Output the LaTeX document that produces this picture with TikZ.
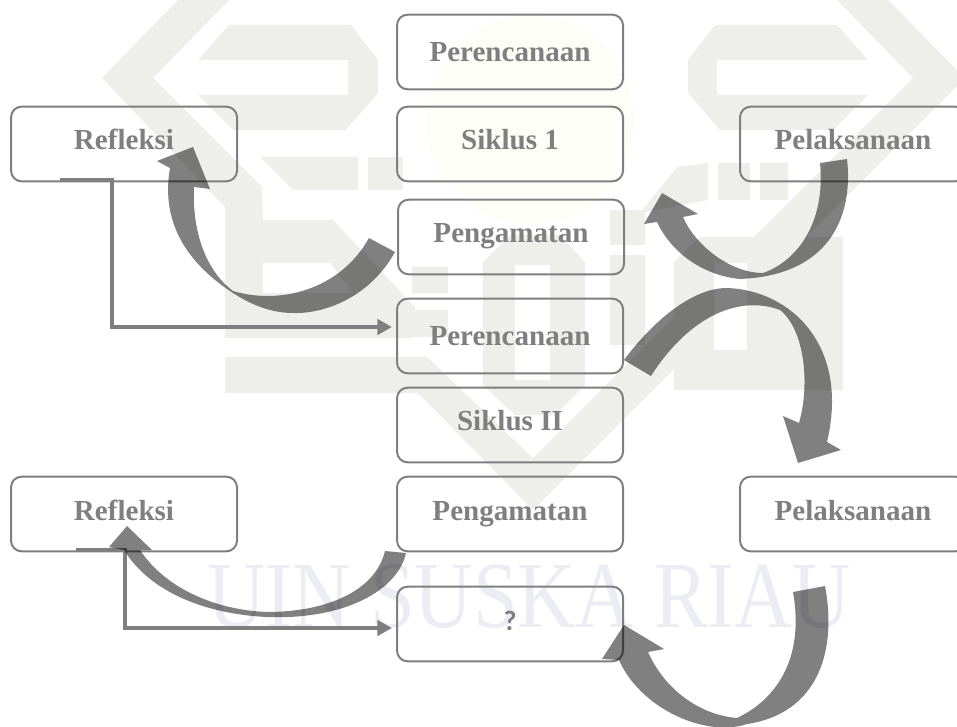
\documentclass[tikz,border=0pt]{standalone}
\usepackage{fontspec}
\setmainfont{Liberation Serif}
\newfontfamily\qfont{Carlito}
\usetikzlibrary{arrows.meta}
\definecolor{inkgray}{HTML}{7F7F7F}
\definecolor{sweepgray}{HTML}{808080}
\definecolor{markgray}{HTML}{EEEFEB}
\definecolor{marklilac}{HTML}{ECECF5}
\definecolor{ringyellow}{HTML}{FEFEF9}
\tikzset{
    stagebox/.style={draw=inkgray,line width=1.5pt,rounded corners=8pt,minimum width=169.5pt,minimum height=56pt,
        text=inkgray,font=\fontsize{21.8}{26}\selectfont\bfseries,text height=15pt,text depth=6pt,inner sep=0pt},
    lowtext/.style={text height=21pt},
    link/.style={draw=inkgray,line width=2.8pt,-{Triangle[length=11pt,width=11.5pt]}},
    sweep/.style={fill=sweepgray,blend mode=multiply},
    logopart/.style={fill=markgray}
}
\begin{document}
\begin{tikzpicture}[x=0.75pt,y=-0.75pt]
    \useasboundingbox (0,0) rectangle (957,727);

    % logo behind everything
    \fill[fill=ringyellow] (530,120) circle (105);
    \fill[logopart] (178,0) -- (229,0) -- (153,78) -- (262,187) -- (263,220) -- (333,220) -- (415,307) -- (412,338) -- (225,338) -- (225,207) -- (102,78) -- cycle;
    \fill[white] (263,263) -- (330,263) -- (353,293) -- (263,293) -- cycle;
    \fill[logopart] (229,25) -- (351,25) -- (378,60) -- (378,93) -- (346,130) -- (233,130) -- (198,95) -- (348,95) -- (348,60) -- (198,60) -- cycle;
    \fill[logopart] (260,157) -- (358,157) -- (358,190) -- (293,190) -- cycle;
    \fill[logopart] (368,157) -- (403,157) -- (403,190) -- (368,190) -- cycle;
    \fill[logopart] (412,267) -- (448,267) -- (448,293) -- (412,293) -- cycle;
    \fill[logopart] (412,310) -- (448,310) -- (448,337) -- (412,337) -- cycle;
    % big V under the middle column
    \fill[logopart] (225,357) -- (427,357) -- (533,458) -- (913,78) -- (837,0) -- (888,0) -- (965,78) -- (533,510) -- (418,393) -- (225,393) -- cycle;
    \fill[logopart] (483,262) -- (510,235) -- (560,235) -- (585,262) -- (585,385) -- (555,415) -- (515,415) -- (483,385) -- cycle;
    \fill[white] (515,265) -- (550,265) -- (550,380) -- (515,380) -- cycle;
    \fill[logopart] (715,25) -- (837,25) -- (868,60) -- (717,60) -- (717,95) -- (868,95) -- (833,130) -- (720,130) -- (688,93) -- (688,60) -- cycle;
    \fill[logopart] (610,210) -- (645,210) -- (645,245) -- (610,245) -- cycle;
    \fill[logopart] (610,255) -- (645,255) -- (645,345) -- (610,345) -- cycle;
    \fill[logopart] (640,213) -- (677,167) -- (708,163) -- (708,200) -- cycle;
    \fill[logopart] (718,163) -- (750,163) -- (750,200) -- (718,200) -- cycle;
    \fill[logopart] (760,163) -- (788,163) -- (788,200) -- (760,200) -- cycle;
    \fill[logopart] (674,262) -- (700,237) -- (843,237) -- (843,390) -- (674,390) -- cycle;
    \fill[white] (714,263) -- (747,263) -- (747,350) -- (714,350) -- cycle;
    \node[text=marklilac,font=\fontsize{71}{71}\selectfont,inner sep=0pt] (wordmark) at (529,597) {\scalebox{.85}[1]{UIN SUSKA RIAU}};

    % stage boxes
    \node[stagebox,lowtext] (perencanaana) at (510,52) {Perencanaan};
    \node[stagebox] (siklusa) at (510,144) {Siklus 1};
    \node[stagebox] (pengamatana) at (511,237) {Pengamatan};
    \node[stagebox,lowtext] (perencanaanb) at (510,336) {Perencanaan};
    \node[stagebox] (siklusb) at (510,425) {Siklus II};
    \node[stagebox] (pengamatanb) at (510,514) {Pengamatan};
    \node[stagebox,font=\qfont\fontsize{21}{26}\selectfont\bfseries] (tanya) at (510,624) {?};
    \node[stagebox] (refleksia) at (124,144) {Refleksi};
    \node[stagebox] (refleksib) at (124,514) {Refleksi};
    \node[stagebox] (pelaksanaana) at (853,144) {Pelaksanaan};
    \node[stagebox] (pelaksanaanb) at (853,514) {Pelaksanaan};

    % links from the reflection boxes
    \coordinate (stuba) at (60,180);
    \coordinate (stubb) at (76,550);
    \coordinate (bendb) at (125,550);
    \coordinate (benda) at (112,180);
    \coordinate (hita) at (392,327);
    \coordinate (hitb) at (392,628);
    \draw[link] (stuba) -- (benda) |- (hita);
    \draw[link] (stubb) -- (bendb) |- (hitb);

    % curved block arrows
    \coordinate (taila) at (395,252);
    \coordinate (tipa) at (193,147);
    \fill[sweep] (taila) .. controls (370,297) and (325,314) .. (293,313) .. controls (270,313) and (250,304) .. (233,293)
        .. controls (190,265) and (160,225) .. (170,168) -- (157,161) -- (tipa) -- (210,189) -- (194,187)
        .. controls (192,230) and (205,270) .. (233,291) .. controls (280,305) and (340,290) .. (369,238) -- cycle;
    \coordinate (tailb) at (847,159);
    \coordinate (tipb) at (662,193);
    \fill[sweep] (tailb) .. controls (853,210) and (835,275) .. (740,279) .. controls (700,275) and (670,250) .. (657,222)
        -- (644,224) -- (tipb) -- (698,214) -- (683,217) .. controls (695,245) and (730,273) .. (763,273)
        .. controls (795,262) and (826,225) .. (820,163) -- cycle;
    \coordinate (tailc) at (624,360);
    \coordinate (tipc) at (798,463);
    \fill[sweep] (tailc) .. controls (650,325) and (690,288) .. (727,288) .. controls (790,290) and (850,345) .. (827,442)
        -- (841,450) -- (tipc) -- (783,416) -- (799,423) .. controls (810,385) and (805,330) .. (780,310)
        .. controls (740,295) and (690,315) .. (651,376) -- cycle;
    \coordinate (taild) at (406,553);
    \coordinate (tipd) at (127,526);
    \fill[sweep] (taild) .. controls (398,590) and (345,620) .. (267,617) .. controls (205,614) and (150,592) .. (124,550)
        -- (109,547) -- (tipd) -- (152,550) -- (140,550) .. controls (165,588) and (215,610) .. (267,612)
        .. controls (325,612) and (375,592) .. (385,551) -- cycle;
    \coordinate (taile) at (825,586);
    \coordinate (tipe) at (624,625);
    \fill[sweep] (taile) .. controls (838,655) and (815,714) .. (747,724) .. controls (705,738) and (640,708) .. (619,660)
        -- (602,659) -- (tipe) -- (664,649) -- (648,652) .. controls (665,690) and (700,715) .. (737,718)
        .. controls (775,700) and (805,660) .. (793,592) -- cycle;
\end{tikzpicture}
\end{document}
